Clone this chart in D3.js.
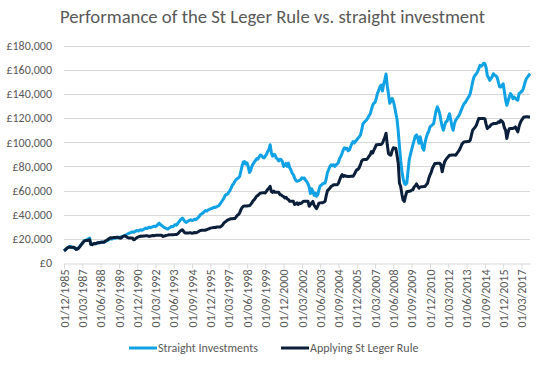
<!DOCTYPE html>
<html>
<head>
<meta charset="utf-8">
<script src="https://cdn.jsdelivr.net/npm/d3@7"></script>
<style>
  html, body { margin: 0; padding: 0; background: #ffffff; }
  svg { display: block; font-family: Carlito, Calibri, Lato, "Open Sans", sans-serif; }
</style>
</head>
<body>
<svg id="chart" width="542" height="365"></svg>
<script>
// ---- DATA ----
const title = "Performance of the St Leger Rule vs. straight investment";
const seriesNames = ["Straight Investments", "Applying St Leger Rule"];
const firstMonth = "1985-12";   // monthly categories, Dec 1985 .. Oct 2017
const lastMonth = "2017-10";
const xTickLabels = ["01/12/1985","01/03/1987","01/06/1988","01/09/1989","01/12/1990","01/03/1992",
  "01/06/1993","01/09/1994","01/12/1995","01/03/1997","01/06/1998","01/09/1999","01/12/2000",
  "01/03/2002","01/06/2003","01/09/2004","01/12/2005","01/03/2007","01/06/2008","01/09/2009",
  "01/12/2010","01/03/2012","01/06/2013","01/09/2014","01/12/2015","01/03/2017"];
const yTicks = [0, 20000, 40000, 60000, 80000, 100000, 120000, 140000, 160000, 180000];

// values in £ thousands, one per month
const straightK = [10.0,
 10.8, 11.9, 12.6, 13.2, 13.8, 13.3, 12.8, 12.6, 12.1, 11.4, 11.9, 12.7,
 13.8, 15.2, 16.4, 17.6, 18.5, 18.9, 19.3, 20.1, 20.7, 15.6, 15.2, 15.9,
 16.3, 16.0, 16.6, 16.9, 16.5, 17.2, 17.5, 17.1, 17.4, 17.9, 18.3, 18.7,
 19.6, 20.0, 19.8, 20.4, 20.6, 20.5, 21.0, 20.8, 21.3, 21.1, 21.8, 22.0,
 22.3, 22.9, 23.4, 24.0, 24.6, 25.0, 25.3, 25.8, 25.4, 26.0, 26.6, 26.9,
 26.5, 27.2, 27.5, 27.1, 27.8, 28.3, 28.9, 28.5, 29.2, 29.6, 29.3, 29.8,
 30.2, 30.5, 30.1, 30.9, 32.0, 33.0, 31.8, 31.2, 30.3, 29.5, 29.0, 28.6,
 28.1, 28.8, 29.5, 30.3, 30.0, 30.8, 31.7, 31.3, 32.4, 33.8, 35.2, 36.4,
 37.2, 36.0, 34.5, 33.6, 34.2, 34.9, 35.4, 35.8, 35.2, 35.6, 36.3, 35.8,
 36.8, 37.5, 38.9, 40.1, 40.8, 41.6, 42.5, 43.4, 43.0, 43.8, 44.3, 44.8,
 45.1, 45.6, 46.2, 46.0, 46.5, 47.0, 47.5, 49.0, 50.5, 52.0, 53.5, 55.8,
 56.8, 57.0, 58.5, 60.0, 62.0, 64.5, 65.5, 67.5, 69.0, 69.8, 70.5, 71.8,
 76.0, 80.5, 83.5, 84.0, 82.0, 83.0, 80.0, 75.0, 76.5, 80.0, 82.0, 83.5,
 85.0, 86.5, 86.0, 88.0, 89.5, 89.0, 87.5, 87.0, 88.5, 90.0, 92.5, 94.0,
 98.0, 91.0, 88.5, 90.0, 89.5, 87.0, 86.0, 84.5, 86.0, 85.6, 84.0, 80.0,
 81.0, 82.5, 80.0, 82.8, 79.0, 77.0, 74.5, 73.2, 70.5, 68.5, 67.7, 68.0,
 68.5, 69.0, 70.5, 70.0, 70.4, 68.5, 67.5, 65.5, 63.0, 57.5, 61.5, 59.5,
 56.0, 58.0, 55.3, 56.5, 60.5, 64.0, 64.5, 65.5, 66.0, 66.2, 70.0, 75.0,
 77.5, 80.0, 81.3, 80.5, 81.4, 80.0, 81.3, 82.0, 83.5, 86.8, 88.5, 91.0,
 94.0, 95.5, 94.5, 95.0, 93.0, 93.7, 96.5, 99.0, 100.5, 99.5, 101.0, 102.0,
 103.5, 104.5, 106.0, 110.0, 115.0, 116.5, 117.5, 118.5, 120.0, 122.0, 123.5, 127.0,
 130.5, 132.5, 133.0, 136.5, 140.6, 143.0, 146.0, 147.4, 142.5, 148.0, 152.0, 156.5,
 146.5, 140.0, 132.3, 134.0, 136.4, 134.0, 129.5, 124.0, 119.0, 109.0, 96.5, 85.0,
 76.0, 70.0, 66.0, 65.0, 66.2, 76.0, 85.5, 90.0, 94.0, 97.9, 101.5, 105.0,
 106.1, 103.5, 99.2, 104.5, 100.0, 95.0, 93.4, 100.0, 104.0, 107.2, 109.0, 112.7,
 113.5, 114.5, 115.5, 121.0, 126.0, 129.3, 127.0, 123.7, 118.0, 113.0, 110.0, 114.0,
 116.9, 117.5, 120.5, 123.7, 119.0, 113.0, 110.0, 115.0, 118.2, 119.5, 121.0, 122.4,
 125.0, 127.5, 130.0, 132.0, 133.0, 134.8, 136.5, 138.0, 140.3, 145.0, 150.0, 154.0,
 155.5, 156.8, 158.5, 161.0, 163.7, 163.0, 164.0, 165.5, 165.1, 162.0, 155.4, 153.5,
 151.3, 152.5, 154.5, 156.8, 155.5, 155.0, 154.0, 150.0, 146.0, 145.8, 147.0, 148.5,
 142.0, 135.0, 130.6, 134.0, 137.5, 140.3, 139.0, 136.0, 137.5, 136.5, 135.5, 134.8,
 140.3, 141.0, 142.0, 143.0, 146.0, 150.0, 152.7, 154.0, 155.4, 156.8];

const stLegerK = [10.0,
 10.8, 11.9, 12.6, 13.2, 13.0, 13.0, 13.1, 13.1, 12.4, 11.2, 11.6, 12.3,
 13.6, 15.0, 16.3, 17.6, 18.5, 18.6, 18.7, 18.8, 19.3, 15.4, 15.2, 15.8,
 16.2, 16.0, 16.5, 16.8, 17.0, 17.0, 17.1, 17.1, 17.4, 18.2, 18.8, 19.5,
 20.3, 20.9, 20.6, 21.0, 21.2, 21.2, 21.3, 21.3, 21.0, 20.5, 20.9, 21.8,
 22.3, 22.6, 21.8, 21.2, 20.7, 20.7, 20.8, 20.8, 19.3, 19.6, 20.5, 21.2,
 21.6, 22.0, 22.3, 22.1, 22.4, 22.4, 22.5, 22.5, 22.3, 22.0, 22.4, 22.6,
 22.8, 22.6, 22.9, 22.9, 22.9, 23.0, 23.0, 23.0, 22.0, 22.3, 22.6, 22.9,
 23.1, 23.4, 23.3, 23.4, 23.5, 23.5, 23.6, 23.6, 24.0, 25.0, 26.2, 27.0,
 27.5, 26.3, 25.1, 24.8, 24.9, 24.9, 25.0, 25.0, 24.6, 24.8, 25.3, 25.0,
 25.4, 25.9, 26.5, 27.0, 27.1, 27.1, 27.2, 27.2, 27.7, 28.1, 28.4, 28.9,
 29.1, 29.3, 29.5, 29.4, 29.8, 29.8, 29.9, 29.9, 30.5, 31.5, 33.0, 34.0,
 34.6, 35.5, 36.0, 36.4, 36.6, 36.6, 36.8, 36.8, 38.0, 39.5, 40.0, 41.5,
 44.2, 46.0, 47.0, 47.2, 47.3, 47.3, 47.4, 47.4, 48.5, 49.8, 51.5, 52.5,
 54.0, 55.5, 56.0, 57.0, 58.0, 58.0, 58.1, 58.1, 58.0, 59.5, 61.0, 62.0,
 63.5, 59.0, 58.5, 59.5, 58.6, 58.6, 58.7, 58.7, 56.6, 56.6, 55.5, 55.0,
 53.9, 54.5, 53.0, 52.5, 51.1, 51.1, 51.2, 51.2, 48.4, 49.0, 49.8, 48.4,
 49.6, 49.3, 49.8, 51.0, 51.1, 51.1, 51.2, 51.2, 47.0, 48.3, 49.8, 51.0,
 48.0, 46.5, 45.0, 47.0, 49.6, 49.8, 49.9, 49.9, 50.5, 51.0, 56.0, 60.0,
 61.0, 62.0, 63.5, 64.0, 64.8, 64.8, 64.9, 64.9, 66.0, 69.0, 71.5, 73.2,
 71.7, 72.5, 71.8, 71.8, 71.7, 71.7, 71.8, 71.8, 71.8, 73.5, 75.5, 77.2,
 77.5, 79.0, 81.5, 84.5, 85.6, 85.7, 85.8, 85.8, 86.8, 88.5, 89.7, 92.3,
 91.0, 93.5, 95.5, 97.9, 98.0, 98.1, 98.2, 98.2, 99.2, 101.7, 104.0, 107.5,
 97.9, 90.7, 89.6, 89.3, 93.0, 95.5, 95.0, 95.1, 89.0, 82.7, 66.0, 63.4,
 57.0, 52.1, 51.0, 55.5, 59.0, 59.3, 59.5, 59.6, 60.4, 60.6, 63.0, 64.0,
 65.5, 63.5, 62.0, 63.0, 63.1, 63.2, 63.3, 63.3, 65.0, 65.9, 70.0, 72.8,
 75.0, 78.5, 80.5, 82.4, 82.5, 82.6, 82.7, 82.7, 81.1, 75.5, 80.0, 83.8,
 85.5, 87.0, 88.0, 89.3, 89.3, 89.4, 89.4, 89.5, 89.3, 90.5, 92.0, 93.4,
 95.5, 98.0, 99.5, 100.3, 100.4, 100.5, 100.6, 100.7, 101.7, 106.0, 110.0, 111.3,
 112.5, 114.1, 117.0, 119.6, 119.7, 119.7, 119.8, 119.8, 119.6, 115.0, 111.3, 112.5,
 113.0, 114.5, 115.0, 115.5, 115.6, 115.6, 115.7, 116.9, 116.5, 118.2, 117.5, 116.0,
 112.0, 110.0, 103.1, 108.0, 111.3, 111.4, 111.5, 111.5, 112.0, 112.7, 110.5, 108.6,
 113.0, 116.0, 118.2, 119.5, 121.0, 121.0, 121.1, 121.1, 121.0, 121.0];

// ---- BUILD ----
const parseM = d3.timeParse("%Y-%m");
const fmtD = d3.timeFormat("%d/%m/%Y");
const months = d3.timeMonth.range(parseM(firstMonth), d3.timeMonth.offset(parseM(lastMonth), 1)).map(fmtD);

const colors = ["#10a2e4", "#0b1f3a"];
const series = [straightK, stLegerK].map((vals, k) => ({
  name: seriesNames[k], color: colors[k],
  values: vals.map((v, i) => ({ cat: months[i], value: v * 1000 }))
}));

const svg = d3.select("#chart");
const margin = { left: 64, right: 12, top: 45.7, bottom: 102 };
const W = 542, H = 365;

const x = d3.scalePoint().domain(months).range([margin.left, W - margin.right]);
const y = d3.scaleLinear().domain([0, 180000]).range([H - margin.bottom, margin.top]);

// title
svg.append("text")
  .attr("x", 272.5).attr("y", 23)
  .attr("text-anchor", "middle")
  .attr("fill", "#595959")
  .style("font-size", "18.7px")
  .text(title);

// gridlines
svg.append("g").selectAll("line").data(yTicks.slice(1)).join("line")
  .attr("x1", margin.left).attr("x2", W - margin.right)
  .attr("y1", d => Math.round(y(d)) + 0.5).attr("y2", d => Math.round(y(d)) + 0.5)
  .attr("stroke", "#d9d9d9").attr("stroke-width", 1);

// y axis labels
const gy = svg.append("g").attr("transform", `translate(${margin.left - 12},0)`)
  .call(d3.axisLeft(y).tickValues(yTicks).tickSize(0).tickFormat(d => "£" + d3.format(",")(d)));
gy.select(".domain").remove();
gy.selectAll("text").attr("fill", "#595959").style("font-size", "12px")
  .style("font-family", "Carlito, Calibri, Lato, sans-serif").attr("x", 0);

// x axis
const gx = svg.append("g").attr("transform", `translate(0,${Math.round(y(0)) + 0.5})`)
  .call(d3.axisBottom(x).tickValues(xTickLabels).tickSize(5).tickSizeOuter(0));
gx.select(".domain").attr("stroke", "#d9d9d9");
gx.selectAll(".tick line").attr("stroke", "#d9d9d9");
gx.selectAll("text")
  .attr("fill", "#595959").style("font-size", "12px")
  .style("font-family", "Carlito, Calibri, Lato, sans-serif")
  .attr("transform", "rotate(-90)")
  .attr("text-anchor", "end")
  .attr("x", -6).attr("y", 0).attr("dy", "0.35em");

// lines
const line = d3.line().x(d => x(d.cat)).y(d => y(d.value));
svg.append("g").selectAll("path").data(series).join("path")
  .attr("d", d => line(d.values))
  .attr("fill", "none")
  .attr("stroke", d => d.color)
  .attr("stroke-width", 3)
  .attr("stroke-linejoin", "round");

// legend
const legendItems = [
  { x: 129, name: seriesNames[0], color: colors[0] },
  { x: 281, name: seriesNames[1], color: colors[1] }
];
const lg = svg.append("g").selectAll("g").data(legendItems).join("g")
  .attr("transform", d => `translate(${d.x},348)`);
lg.append("line").attr("x1", 0).attr("x2", 28).attr("y1", 0).attr("y2", 0)
  .attr("stroke", d => d.color).attr("stroke-width", 3);
lg.append("text").attr("x", 29).attr("dy", "0.35em")
  .attr("fill", "#595959").style("font-size", "12px")
  .text(d => d.name);
</script>
</body>
</html>
